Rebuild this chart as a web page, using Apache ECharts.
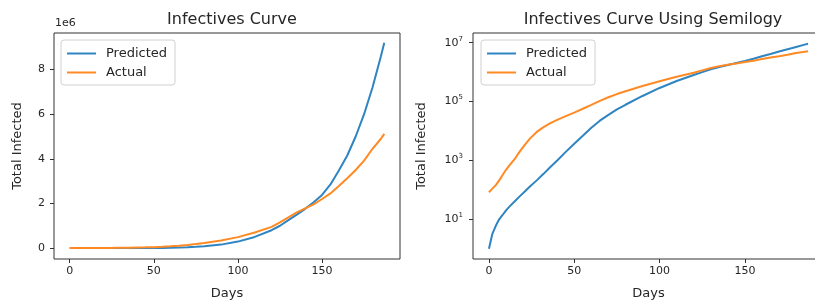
<!DOCTYPE html>
<html>
<head>
<meta charset="utf-8">
<script src="https://cdn.jsdelivr.net/npm/echarts@6/dist/echarts.min.js"></script>
<style>
  html, body { margin: 0; padding: 0; background: #fff; }
  #chart { width: 815px; height: 303px; }
</style>
</head>
<body>
<div id="chart"></div>
<script>
const FONT = "DejaVu Sans";
const TEXT = "#262626";
const BORDER = "#333";
const BLUE = "#2f84c2";
const ORANGE = "#ff8a24";

const days = [0, 2, 4, 6, 8, 10, 12, 15, 18, 21, 24, 28, 32, 36, 40, 45, 50, 55, 60, 65, 70,
  75, 80, 90, 100, 110, 120, 125, 130, 135, 140, 145, 150, 155, 160, 165, 170, 175, 180, 185, 187];

const predicted = [1, 3.2, 6, 10, 14, 20, 27, 40, 60, 88, 130, 210, 350, 600, 1000, 1950, 3700,
  6900, 12900, 22400, 35500, 54000, 78000, 155000, 290000, 500000, 800000, 1000000, 1250000,
  1500000, 1760000, 2050000, 2380000, 2850000, 3480000, 4150000, 5000000, 6000000, 7200000,
  8600000, 9200000];

const actual = [83, 110, 145, 210, 320, 480, 680, 1100, 2000, 3400, 5500, 9300, 13500, 18500,
  24000, 32000, 42000, 57000, 77000, 105000, 140000, 180000, 225000, 340000, 490000, 700000,
  950000, 1150000, 1380000, 1600000, 1780000, 1960000, 2200000, 2450000, 2780000, 3130000,
  3500000, 3920000, 4450000, 4900000, 5120000];

const xTicks = [0, 50, 100, 150];
const linTicks = [0, 2e6, 4e6, 6e6, 8e6];
const logTicks = [10, 1e3, 1e5, 1e7];

const titles = ["Infectives Curve", "Infectives Curve Using Semilogy"];

const chart = echarts.init(document.getElementById("chart"), null, { renderer: "canvas" });

function pairs(vals) {
  return days.map((d, i) => [d, vals[i]]);
}

const tickStyle = { color: TEXT, fontFamily: FONT, fontSize: 11 };
const nameStyle = { color: TEXT, fontFamily: FONT, fontSize: 13 };

function xAxis(gridIndex) {
  return {
    type: "value",
    gridIndex,
    min: -9.35,
    max: 196.35,
    name: "Days",
    nameLocation: "middle",
    nameGap: 28,
    nameTextStyle: nameStyle,
    axisLine: { show: false, onZero: false },
    axisTick: { show: true, length: 4, lineStyle: { color: BORDER }, customValues: xTicks },
    axisLabel: { ...tickStyle, margin: 7, customValues: xTicks },
    splitLine: { show: false },
  };
}

function legend(left) {
  return {
    left,
    top: 40,
    orient: "vertical",
    data: ["Predicted", "Actual"],
    backgroundColor: "#fff",
    borderColor: "#d0d0d0",
    borderWidth: 1,
    borderRadius: 3,
    padding: [7, 8, 6, 5],
    itemWidth: 29,
    itemHeight: 14,
    itemGap: 6,
    itemStyle: { color: "rgba(0,0,0,0)", borderWidth: 0, opacity: 0 },
    textStyle: { color: TEXT, fontFamily: FONT, fontSize: 13, padding: [0, 0, 0, 5] },
  };
}

function line(name, vals, color, idx) {
  return {
    name,
    type: "line",
    xAxisIndex: idx,
    yAxisIndex: idx,
    data: pairs(vals),
    symbol: "none",
    lineStyle: { color, width: 2 },
    itemStyle: { color },
    z: name === "Actual" ? 3 : 2,
  };
}

chart.setOption({
  animation: false,
  title: [
    { text: titles[0], left: 227, top: 7, textAlign: "center",
      textStyle: { color: TEXT, fontFamily: FONT, fontSize: 16, fontWeight: "normal" } },
    { text: titles[1], left: 648, top: 7, textAlign: "center",
      textStyle: { color: TEXT, fontFamily: FONT, fontSize: 16, fontWeight: "normal" } },
  ],
  graphic: [
    { type: "text", left: 55, top: 18, style: { text: "1e6", fill: TEXT, font: "11px 'DejaVu Sans'" } },
  ],
  grid: [
    { left: 54, top: 33, width: 346, height: 226, show: true, borderColor: BORDER, borderWidth: 1,
      containLabel: false, outerBoundsMode: "none" },
    { left: 473, top: 33, width: 351, height: 226, show: true, borderColor: BORDER, borderWidth: 1,
      containLabel: false, outerBoundsMode: "none" },
  ],
  legend: [legend(61), legend(481)],
  xAxis: [xAxis(0), xAxis(1)],
  yAxis: [
    {
      type: "value",
      gridIndex: 0,
      min: -0.49e6,
      max: 9.64e6,
      name: "Total Infected",
      nameLocation: "middle",
      nameGap: 30,
      nameTextStyle: nameStyle,
      axisLine: { show: false, onZero: false },
      axisTick: { show: true, length: 4, lineStyle: { color: BORDER }, customValues: linTicks },
      axisLabel: { ...tickStyle, margin: 9, customValues: linTicks, formatter: (v) => String(Math.round(v / 1e6)) },
      splitLine: { show: false },
    },
    {
      type: "log",
      logBase: 10,
      gridIndex: 1,
      min: 0.447,
      max: 2.14e7,
      name: "Total Infected",
      nameLocation: "middle",
      nameGap: 45,
      nameTextStyle: nameStyle,
      axisLine: { show: false, onZero: false },
      axisTick: { show: true, length: 4, lineStyle: { color: BORDER }, customValues: logTicks },
      minorTick: { show: false },
      axisLabel: {
        ...tickStyle,
        margin: 10,
        customValues: logTicks,
        formatter: (v) => "{b|10}{e|" + Math.round(Math.log10(v)) + "}",
        rich: {
          b: { color: TEXT, fontFamily: FONT, fontSize: 11 },
          e: { color: TEXT, fontFamily: FONT, fontSize: 7, padding: [0, 0, 8, 0] },
        },
      },
      splitLine: { show: false },
    },
  ],
  series: [
    line("Predicted", predicted, BLUE, 0),
    line("Actual", actual, ORANGE, 0),
    line("Predicted", predicted, BLUE, 1),
    line("Actual", actual, ORANGE, 1),
  ],
});
</script>
</body>
</html>
